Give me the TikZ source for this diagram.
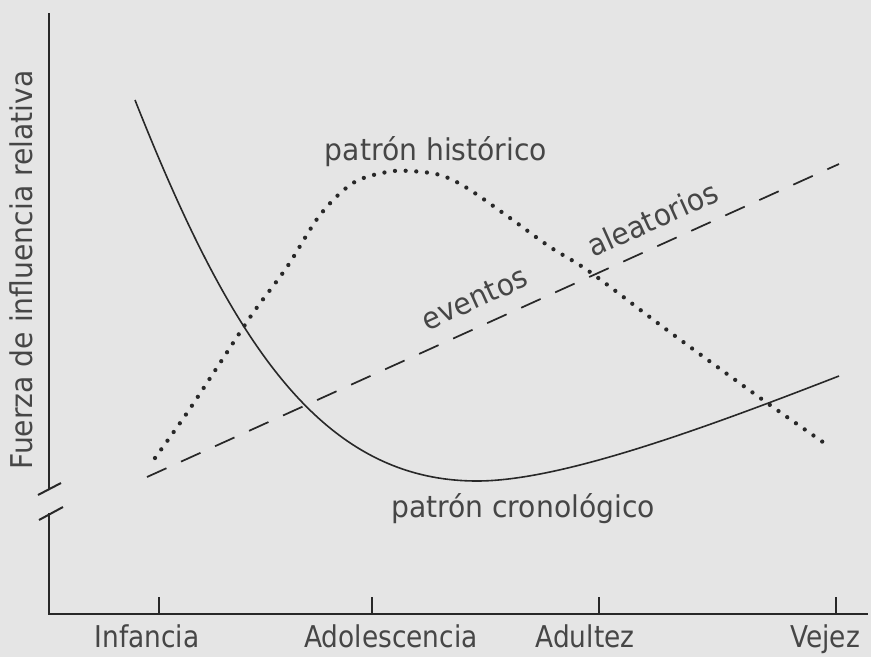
\documentclass[tikz,border=0pt]{standalone}
\usepackage{fontspec}
\setmainfont[FakeStretch=0.94]{DejaVu Sans}
\newfontfamily\axisfont[FakeStretch=0.88]{DejaVu Sans}
\begin{document}
\begin{tikzpicture}[x=0.75pt,y=-0.75pt,
  bg/.style={fill={rgb,255:red,229;green,229;blue,229}},
  ink/.style={draw={rgb,255:red,40;green,40;blue,40}},
  axisline/.style={ink,line width=1.5pt},
  ticklinestyle/.style={ink,line width=1.4pt},
  cronol/.style={ink,line width=1.2pt},
  histor/.style={ink,line width=3.2pt,line cap=round,dash pattern=on 0pt off 8pt},
  evento/.style={ink,line width=1.3pt,dash pattern=on 16pt off 12pt},
  lbl/.style={text={rgb,255:red,70;green,70;blue,70},inner sep=0pt,anchor=base,
    font=\fontsize{22.5pt}{27pt}\selectfont},
  axlbl/.style={lbl,font=\axisfont\fontsize{22.5pt}{27pt}\selectfont}]
\useasboundingbox (0,0) rectangle (871,657);
\fill[bg] (0,0) rectangle (871,657);
% axes
\coordinate (ytop) at (49,13);
\coordinate (yb1) at (49,489);
\coordinate (yb2) at (49,513);
\coordinate (origin) at (49,614);
\coordinate (xend) at (868,614);
\draw[axisline] (ytop) -- (yb1);
\draw[axisline] (yb2) -- (origin) -- (xend);
\coordinate (s1a) at (38,495); \coordinate (s1b) at (61,483);
\coordinate (s2a) at (39,520); \coordinate (s2b) at (63,507);
\draw[axisline] (s1a) -- (s1b);
\draw[axisline] (s2a) -- (s2b);
% ticks
\foreach \n/\x in {t1/159,t2/372,t3/599,t4/836}{
  \coordinate (\n a) at (\x,597);
  \coordinate (\n b) at (\x,614);
  \draw[ticklinestyle] (\n a) -- (\n b);
}
% patron cronologico (solid)
\coordinate (c0) at (135,100);
\coordinate (cmin) at (477,481);
\coordinate (c1) at (839,376);
\draw[cronol] (c0) .. controls (230,340) and (320,481) .. (cmin)
                   .. controls (560,481) and (700,430) .. (c1);
% patron historico (dotted)
\draw[histor] plot[smooth,tension=0.55] coordinates {
  (155,458) (187,413) (220,363) (253,313) (287,267) (320,215) (353,183)
  (387,172) (410,171) (440,175) (467,188) (510,218) (550,247) (590,272)
  (667,330) (763,400) (830,447)};
% eventos aleatorios (dashed)
\coordinate (dstart) at (147,477);
\coordinate (dend) at (839,164);
\draw[evento] (dstart) -- (dend);
% labels
\node[lbl] (hist) at (436,160) {patrón histórico};
\node[lbl] (cron) at (523,517) {patrón cronológico};
\node[lbl,rotate=24.3] (ev) at (479,308) {eventos};
\node[lbl,rotate=24.3] (al) at (657,229) {aleatorios};
\node[lbl,rotate=90] (ylab) at (32,270) {Fuerza de influencia relativa};
\node[axlbl] (inf) at (147,647) {Infancia};
\node[axlbl] (ado) at (391,647) {Adolescencia};
\node[axlbl] (adu) at (585,647) {Adultez};
\node[axlbl] (vej) at (825,647) {Vejez};
\end{tikzpicture}
\end{document}
